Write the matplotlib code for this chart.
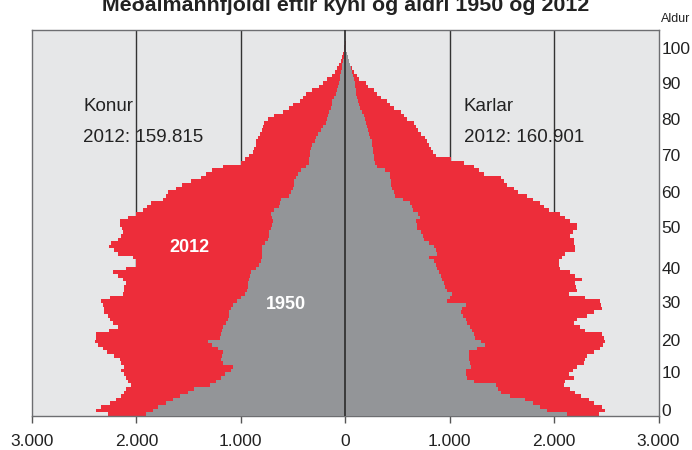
import numpy as np
import matplotlib
matplotlib.use("Agg")
import matplotlib.pyplot as plt

plt.rcParams['font.family'] = ['Liberation Sans', 'DejaVu Sans']

# Aldur 0..105
ages = np.arange(0, 106)

konur_2012 = [2270, 2385, 2337, 2250, 2194, 2146, 2120, 2099, 2051, 2083,
              2099, 2120, 2146, 2115, 2146, 2160, 2210, 2280, 2322, 2369,
              2401, 2390, 2385, 2258, 2178, 2226, 2250, 2274, 2306, 2315,
              2322, 2337, 2250, 2130, 2120, 2115, 2099, 2130, 2180, 2226,
              2100, 2000, 2003, 2035, 2178, 2210, 2258, 2242, 2180, 2146,
              2130, 2140, 2160, 2160, 2083, 2003, 1939, 1900, 1859, 1748,
              1720, 1700, 1620, 1560, 1477, 1381, 1330, 1280, 1174, 1000,
              960, 920, 880, 872, 856, 850, 840, 820, 800, 792,
              780, 740, 680, 600, 540, 500, 432, 400, 378, 314,
              250, 210, 170, 130, 100, 80, 59, 45, 35, 25,
              15, 10, 6, 4, 2, 1]

konur_1950 = [1907, 1840, 1795, 1716, 1650, 1580, 1509, 1445, 1300, 1238,
              1190, 1150, 1094, 1078, 1174, 1190, 1180, 1174, 1221, 1280,
              1317, 1200, 1190, 1180, 1174, 1140, 1126, 1115, 1110, 1095,
              1078, 1040, 1000, 960, 940, 935, 928, 920, 910, 903,
              850, 824, 810, 800, 800, 800, 800, 770, 744, 735,
              728, 712, 700, 696, 700, 712, 680, 632, 625, 617,
              540, 521, 505, 489, 489, 470, 457, 420, 380, 346,
              346, 340, 335, 330, 320, 290, 282, 260, 234, 210,
              187, 175, 165, 155, 140, 130, 123, 105, 91, 75,
              65, 59, 55, 50, 43, 35, 28, 20, 14, 10,
              5, 2, 1, 0, 0, 0]

karlar_2012 = [2427, 2491, 2459, 2379, 2330, 2260, 2200, 2156, 2092, 2108,
               2188, 2140, 2180, 2220, 2284, 2300, 2315, 2379, 2443, 2470,
               2491, 2475, 2459, 2300, 2252, 2188, 2220, 2315, 2380, 2459,
               2450, 2443, 2300, 2140, 2220, 2210, 2204, 2268, 2204, 2150,
               2060, 2050, 2044, 2080, 2108, 2204, 2200, 2190, 2188, 2156,
               2180, 2220, 2220, 2150, 2108, 2060, 1949, 1900, 1869, 1800,
               1742, 1650, 1614, 1551, 1520, 1487, 1327, 1280, 1232, 1136,
               1009, 865, 840, 817, 800, 786, 760, 722, 700, 680,
               658, 594, 560, 531, 467, 430, 403, 339, 300, 275,
               220, 196, 132, 110, 84, 60, 46, 30, 20, 15,
               10, 6, 4, 2, 1, 0]

karlar_1950 = [2124, 1933, 1869, 1800, 1726, 1582, 1487, 1460, 1439, 1231,
               1168, 1160, 1152, 1200, 1190, 1184, 1184, 1184, 1263, 1343,
               1300, 1247, 1230, 1216, 1190, 1168, 1152, 1130, 1104, 1120,
               1152, 977, 1000, 1024, 977, 960, 945, 930, 913, 900,
               881, 865, 849, 801, 881, 870, 849, 801, 754, 740,
               722, 690, 683, 674, 715, 700, 651, 640, 619, 550,
               476, 470, 444, 440, 435, 430, 428, 380, 300, 285,
               280, 275, 269, 265, 260, 253, 240, 230, 221, 210,
               200, 189, 175, 160, 145, 135, 125, 110, 105, 100,
               94, 90, 85, 78, 65, 55, 46, 35, 25, 18,
               10, 3, 1, 0, 0, 0]

xticks = [-3000, -2000, -1000, 0, 1000, 2000, 3000]
xlabels = ['3.000', '2.000', '1.000', '0', '1.000', '2.000', '3.000']
ylabels = ['0', '10', '20', '30', '40', '50', '60', '70', '80', '90', '100']
ytick_pos = [1.2, 11.7, 20.4, 30.9, 40.1, 51.4, 61.1, 71.2, 81.1, 90.9, 100.5]

red = '#ED2D3A'
grey = '#939598'
bg = '#E6E7E8'

fig = plt.figure(figsize=(6.92, 4.5), dpi=100)
ax = fig.add_axes([32 / 692, 34 / 450, 626.5 / 692, 386 / 450])
ax.set_facecolor(bg)

for x in [-2000, -1000, 1000, 2000]:
    ax.axvline(x, color='#333333', lw=1.0, zorder=1)

ax.barh(ages, -np.array(konur_2012), height=1.0, color=red, lw=0, zorder=2)
ax.barh(ages, karlar_2012, height=1.0, color=red, lw=0, zorder=2)
ax.barh(ages, -np.array(konur_1950), height=1.0, color=grey, lw=0, zorder=3)
ax.barh(ages, karlar_1950, height=1.0, color=grey, lw=0, zorder=3)
ax.axvline(0, color='#333333', lw=1.3, zorder=4)

ax.set_xlim(-3000, 3000)
ax.set_ylim(-0.5, 105.5)
ax.set_xticks(xticks)
ax.set_xticklabels(xlabels, fontsize=12.5, color='#222222')
ax.tick_params(axis='x', length=5, width=1, color='#555555', pad=8)
ax.yaxis.tick_right()
ax.set_yticks(ytick_pos)
ax.set_yticklabels(ylabels, fontsize=12.5, color='#222222')
ax.tick_params(axis='y', length=0, pad=2)
for s in ax.spines.values():
    s.set_color('#6D6E71')
    s.set_linewidth(1.0)

txt = dict(fontsize=13.5, color='#222222', va='center', ha='left')
ax.text(-2510, 84.4, 'Konur', **txt)
ax.text(-2510, 76.1, '2012: 159.815', **txt)
ax.text(1133, 84.4, 'Karlar', **txt)
ax.text(1133, 76.1, '2012: 160.901', **txt)
ax.text(-1496, 45.9, '2012', fontsize=13, fontweight='bold', color='white',
        ha='center', va='center', zorder=5)
ax.text(-569, 30.0, '1950', fontsize=13, fontweight='bold', color='white',
        ha='center', va='center', zorder=5)

fig.text(346 / 692, 1 - 11 / 450, 'Meðalmannfjöldi eftir kyni og aldri 1950 og 2012',
         fontsize=15.4, fontweight='bold', ha='center', va='baseline', color='#222222')
fig.text(676 / 692, 1 - 19.5 / 450, 'Aldur', fontsize=9, ha='center', va='center',
         color='#222222')

fig.savefig('out.png', dpi=100)
